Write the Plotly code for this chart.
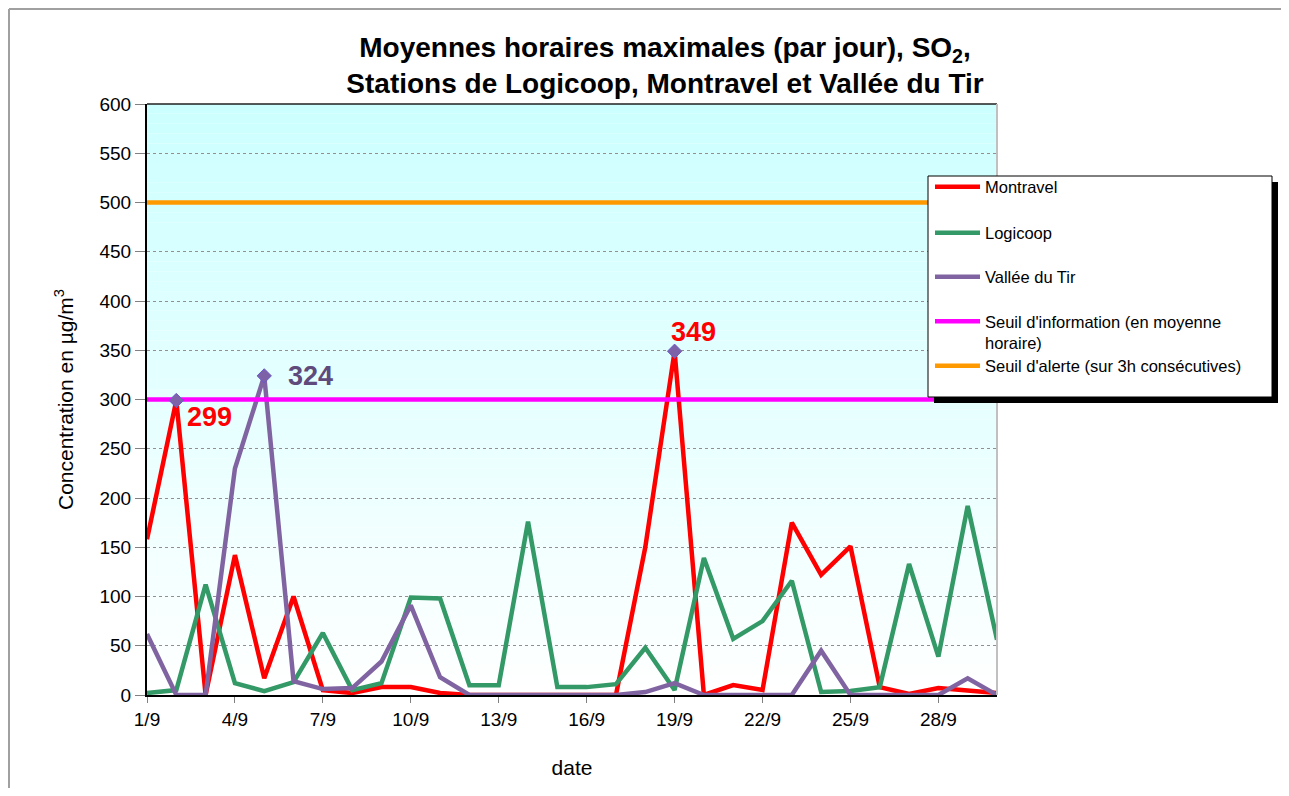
import plotly.graph_objects as go

days = list(range(1, 31))
tick_vals = [1, 4, 7, 10, 13, 16, 19, 22, 25, 28]
tick_text = ["1/9", "4/9", "7/9", "10/9", "13/9", "16/9", "19/9", "22/9", "25/9", "28/9"]

montravel = [158, 299, 0, 142, 17, 100, 5, 2, 8, 8, 2, 0, 0, 0, 1, 1, 0, 150, 349, 0,
             10, 5, 175, 122, 151, 8, 1, 7, 5, 2]
logicoop = [2, 5, 112, 12, 4, 13, 63, 5, 12, 99, 98, 10, 10, 176, 8, 8, 11, 48, 5, 139,
            57, 75, 116, 3, 4, 8, 133, 39, 192, 56]
vallee = [62, 0, 0, 230, 324, 14, 6, 7, 34, 91, 18, 0, 0, 0, 0, 0, 0, 3, 12, 0,
          0, 0, 0, 45, 0, 0, 0, 0, 17, 0]
seuil_info = [300] * 30
seuil_alerte = [500] * 30

# page is offset by the 8px body margin; work in page pixels and convert
OFF = 8
W, H = 1289 - 2 * OFF, 796 - 2 * OFF
PL, PR, PT, PB = 147, 997, 104, 695  # plot area in page pixels


def px(x):
    return (x - PL) / (PR - PL)


def py(y):
    return (PB - y) / (PB - PT)


# highlighted maxima: (series values, day index, label colour, xshift, yshift)
peaks = [
    (montravel, 1, "#FF0000", 33, -17),
    (vallee, 4, "#604A7B", 46, 0),
    (montravel, 18, "#FF0000", 19, 19),
]

FONT = "Arial, Liberation Sans, sans-serif"
fig = go.Figure()

# gradient background (cyan -> white)
n_bands = 60
for i in range(n_bands):
    t = (i + 0.5) / n_bands
    r = int(round(204 + (255 - 204) * (1 - t)))
    fig.add_shape(type="rect", xref="x domain", yref="y domain",
                  x0=0, x1=1, y0=i / n_bands, y1=(i + 1) / n_bands,
                  fillcolor=f"rgb({r},255,255)", line=dict(width=0), layer="below")

series = [
    ("Montravel", montravel, "#FF0000"),
    ("Logicoop", logicoop, "#339966"),
    ("Vallée du Tir", vallee, "#8064A2"),
    ("Seuil d'information (en moyenne<br>horaire)", seuil_info, "#FF00FF"),
    ("Seuil d'alerte (sur 3h consécutives)", seuil_alerte, "#FF9900"),
]
legend_y = [187, 233, 277, 332, 366]  # centre of each legend entry (page px)
legend_names = ["legend", "legend2", "legend3", "legend4", "legend5"]

for k, (name, vals, col) in enumerate(series):
    fig.add_trace(go.Scatter(x=days, y=vals, mode="lines", name=name,
                             line=dict(color=col, width=4.5),
                             legend=legend_names[k]))

for vals, idx, col, ax, ay in peaks:
    fig.add_trace(go.Scatter(x=[days[idx]], y=[vals[idx]], mode="markers",
                             marker=dict(symbol="diamond", size=11, color="#7E62A8",
                                         line=dict(color="#6A5ACD", width=1)),
                             showlegend=False, hoverinfo="skip"))
    fig.add_annotation(x=days[idx], y=vals[idx], text=f"<b>{vals[idx]}</b>",
                       showarrow=False, xshift=ax, yshift=ay,
                       font=dict(family=FONT, size=27, color=col))

# plot frame: top black, right gray
fig.add_shape(type="line", xref="paper", yref="paper", x0=0, x1=1, y0=1, y1=1,
              line=dict(color="#202020", width=1.5))
fig.add_shape(type="line", xref="paper", yref="paper", x0=1, x1=1, y0=0, y1=1,
              line=dict(color="#C0C0C0", width=2))
# legend box with shadow (drawn above traces, below legend text)
fig.add_shape(type="rect", xref="paper", yref="paper",
              x0=px(934), x1=px(1278), y0=py(403), y1=py(182),
              fillcolor="black", line=dict(width=0), layer="above")
fig.add_shape(type="rect", xref="paper", yref="paper",
              x0=px(928), x1=px(1272), y0=py(397), y1=py(176),
              fillcolor="white", line=dict(color="black", width=1), layer="above")
# outer frame (top and left edges)
fig.add_shape(type="line", xref="paper", yref="paper",
              x0=px(9), x1=px(1281), y0=py(9), y1=py(9),
              line=dict(color="#A0A0A0", width=2))
fig.add_shape(type="line", xref="paper", yref="paper",
              x0=px(9), x1=px(9), y0=py(9), y1=py(788),
              line=dict(color="#A0A0A0", width=2))

layout_legends = {}
for k, ln in enumerate(legend_names):
    layout_legends[ln] = dict(
        x=px(930), y=py(legend_y[k]), xanchor="left", yanchor="middle",
        bgcolor="rgba(0,0,0,0)", borderwidth=0, valign="top",
        font=dict(family=FONT, size=16.5, color="black"), itemwidth=45)

fig.update_layout(
    width=W, height=H,
    margin=dict(l=PL - OFF, r=W - (PR - OFF), t=PT - OFF, b=H - (PB - OFF)),
    paper_bgcolor="white", plot_bgcolor="white",
    font=dict(family=FONT, color="black"),
    title=dict(text="<b>Moyennes horaires maximales (par jour), SO<sub>2</sub>,<br>"
                    "Stations de Logicoop, Montravel et Vallée du Tir</b>",
               x=(665 - OFF) / W, xanchor="center", y=1 - (57 - OFF) / H, yanchor="middle",
               font=dict(family=FONT, size=28, color="black")),
    xaxis=dict(range=[1, 30], tickvals=tick_vals, ticktext=tick_text,
               showgrid=False, zeroline=False,
               showline=True, linecolor="black", linewidth=2,
               ticks="outside", ticklen=6, tickcolor="#808080",
               tickfont=dict(family=FONT, size=19),
               title=dict(text="date", font=dict(family=FONT, size=21), standoff=32)),
    yaxis=dict(range=[0, 600], dtick=50, showgrid=True, gridcolor="#909090",
               griddash="dot", gridwidth=1, zeroline=False,
               showline=True, linecolor="black", linewidth=2,
               ticks="outside", ticklen=10, tickcolor="#808080",
               tickfont=dict(family=FONT, size=19),
               title=dict(text="Concentration en µg/m<sup>3</sup>",
                          font=dict(family=FONT, size=21), standoff=20)),
    **layout_legends,
)

fig.write_html("out.html")
